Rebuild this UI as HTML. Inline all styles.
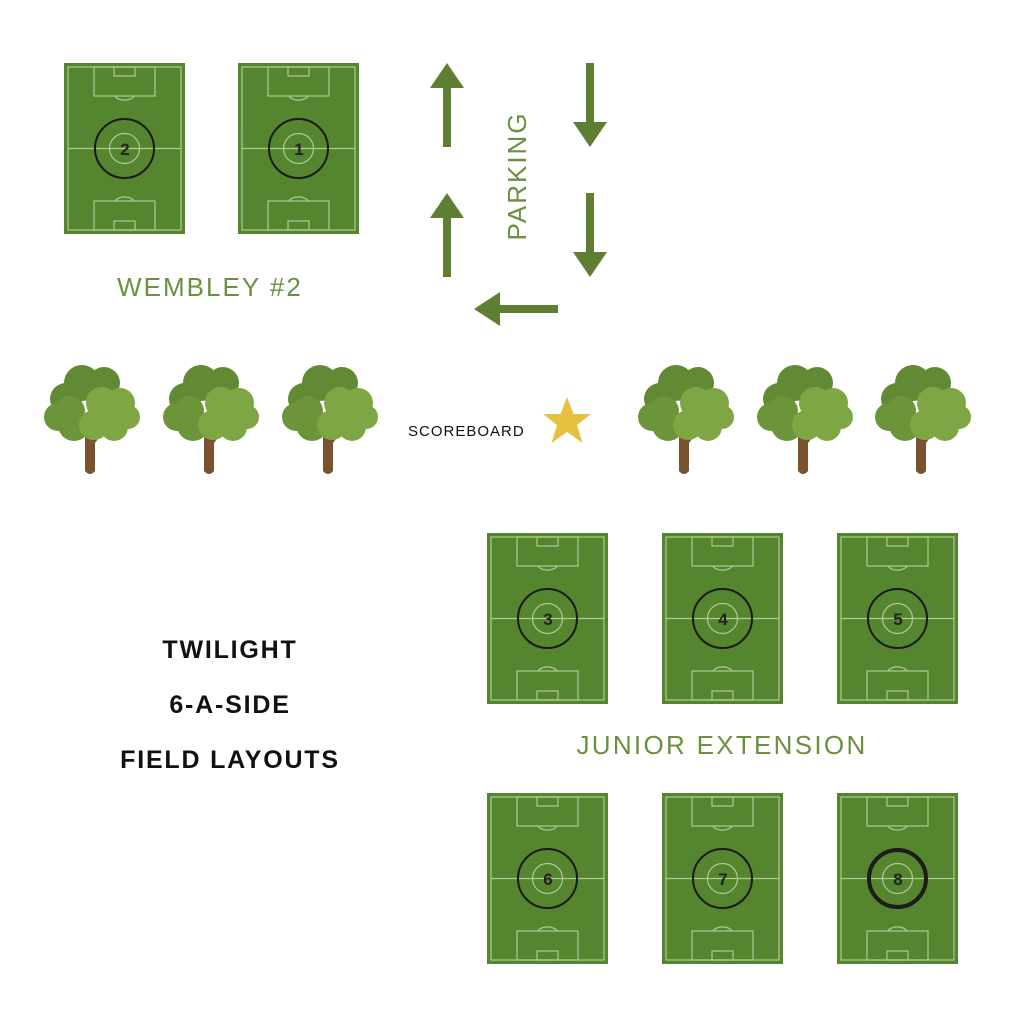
<!DOCTYPE html>
<html><head><meta charset="utf-8"><style>
body{margin:0;background:#fff;}
svg{display:block;}
text{font-family:"Liberation Sans",sans-serif;}
</style></head><body>
<svg width="1024" height="1024" viewBox="0 0 1024 1024" xmlns="http://www.w3.org/2000/svg">
<defs>
<g id="field">
<rect x="0" y="0" width="121" height="171" fill="#55852f"/>
<g fill="none" stroke="#c9dcae" stroke-width="1.2" opacity="0.8">
<rect x="4" y="4" width="113" height="163"/>
<rect x="30" y="4" width="61" height="29"/>
<rect x="50" y="4" width="21" height="9"/>
<path d="M51 33 A10 6 0 0 0 70 33"/>
<rect x="30" y="138" width="61" height="29"/>
<rect x="50" y="158" width="21" height="9"/>
<path d="M51 138 A10 6 0 0 1 70 138"/>
<line x1="4" y1="85.5" x2="117" y2="85.5"/>
<circle cx="60.5" cy="85.5" r="15"/>
</g>
<circle cx="60.5" cy="85.5" r="29.5" fill="none" stroke="#1a1a1a" stroke-width="2"/>
</g>
<g id="tree">
<path d="M-5 25 L-5 66 Q0 72 5 66 L5 38 L20 18 L15 15 L4 28 L0 18 L-5 28 L-20 14 L-25 17 Z" fill="#7a5230"/>
<circle cx="-8" cy="-22" r="18" fill="#628a35"/>
<circle cx="14" cy="-22" r="16" fill="#628a35"/>
<circle cx="-24" cy="-6" r="16" fill="#628a35"/>
<circle cx="-32" cy="12" r="14" fill="#6c9439"/>
<circle cx="-16" cy="20" r="16" fill="#6c9439"/>
<circle cx="-20" cy="6" r="15" fill="#6c9439"/>
<circle cx="12" cy="-2" r="16" fill="#7fa645"/>
<circle cx="30" cy="-2" r="15" fill="#7fa645"/>
<circle cx="38" cy="12" r="12" fill="#7fa645"/>
<circle cx="24" cy="22" r="14" fill="#7fa645"/>
<circle cx="4" cy="20" r="15" fill="#7fa645"/>
<circle cx="16" cy="12" r="15" fill="#7fa645"/>
</g>
</defs>
<use href="#field" x="64" y="63"/>
<use href="#field" x="238" y="63"/>
<use href="#field" x="487" y="533"/>
<use href="#field" x="662" y="533"/>
<use href="#field" x="837" y="533"/>
<use href="#field" x="487" y="793"/>
<use href="#field" x="662" y="793"/>
<use href="#field" x="837" y="793"/>
<g font-weight="bold" font-size="17" fill="#222" text-anchor="middle">
<text x="125" y="155">2</text>
<text x="299" y="155">1</text>
<text x="548" y="625">3</text>
<text x="723" y="625">4</text>
<text x="898" y="625">5</text>
<text x="548" y="885">6</text>
<text x="723" y="885">7</text>
<text x="898" y="885">8</text>
</g>
<circle cx="897.5" cy="878.5" r="27.5" fill="none" stroke="#1a1a1a" stroke-width="2"/>
<g fill="#5e7f31">
<path d="M447 63 L464 88 L451 88 L451 147 L443 147 L443 88 L430 88 Z"/>
<path d="M447 193 L464 218 L451 218 L451 277 L443 277 L443 218 L430 218 Z"/>
<path d="M590 147 L607 122 L594 122 L594 63 L586 63 L586 122 L573 122 Z"/>
<path d="M590 277 L607 252 L594 252 L594 193 L586 193 L586 252 L573 252 Z"/>
<path d="M474 309 L500 292 L500 305 L558 305 L558 313 L500 313 L500 326 Z"/>
</g>
<text x="0" y="0" transform="translate(526,176) rotate(-90)" text-anchor="middle" font-size="26" letter-spacing="2" fill="#6a9040">PARKING</text>
<text x="210" y="296" text-anchor="middle" font-size="26" letter-spacing="2" fill="#6a9040">WEMBLEY #2</text>
<text x="722" y="754" text-anchor="middle" font-size="26" letter-spacing="2.3" fill="#6a9040">JUNIOR EXTENSION</text>
<g font-weight="bold" font-size="25" letter-spacing="1.8" fill="#111" text-anchor="middle">
<text x="230" y="658">TWILIGHT</text>
<text x="230" y="713">6-A-SIDE</text>
<text x="230" y="768">FIELD LAYOUTS</text>
</g>
<text x="408" y="436" font-size="15" letter-spacing="1" fill="#111">SCOREBOARD</text>
<polygon points="567,397 573.5,414 591,414 577,425 582.5,443 567,432 551.5,443 557,425 543,414 560.5,414" fill="#e6c13f"/>
<use href="#tree" x="90" y="405"/>
<use href="#tree" x="209" y="405"/>
<use href="#tree" x="328" y="405"/>
<use href="#tree" x="684" y="405"/>
<use href="#tree" x="803" y="405"/>
<use href="#tree" x="921" y="405"/>
</svg>
</body></html>
